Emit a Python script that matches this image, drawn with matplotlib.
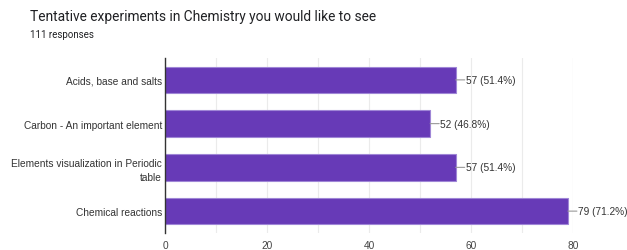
import matplotlib
matplotlib.use("Agg")
import matplotlib.pyplot as plt

categories = ["Acids, base and salts", "Carbon - An important element",
              "Elements visualization in Periodic\ntable", "Chemical reactions"]
counts = [57, 52, 57, 79]
percents = ["51.4%", "46.8%", "51.4%", "71.2%"]
xticks = [0, 20, 40, 60, 80]

FS = 7.3
FAM = ["Liberation Sans", "DejaVu Sans"]

fig = plt.figure(figsize=(6.27, 2.51), dpi=100)
fig.patch.set_facecolor("white")
ax = fig.add_axes([165/627, 1-234/251, 408/627, 175/251])

ypos = list(range(len(categories)))
ax.barh(ypos, counts, height=0.61, color="#673ab7", edgecolor="#9f86d6",
        linewidth=0.8, zorder=3)
ax.set_ylim(len(categories)-0.5, -0.5)
ax.set_xlim(0, 80)
ax.set_yticks(ypos)
ax.set_yticklabels(categories, fontsize=FS, color="#333333", family=FAM,
                   ha="right", linespacing=1.45)
ax.set_xticks(xticks)
ax.set_xticklabels([str(t) for t in xticks], fontsize=FS, color="#444444", family=FAM)
ax.set_xticks(range(10, 80, 20), minor=True)
ax.tick_params(axis="both", length=0, which="both")
ax.tick_params(axis="x", pad=5)
ax.tick_params(axis="y", pad=2)
ax.grid(axis="x", which="both", color="#ebebeb", linewidth=0.8, zorder=0)
ax.axvline(80, color="#ebebeb", linewidth=0.8, zorder=0)
for s in ["top", "right", "bottom"]:
    ax.spines[s].set_visible(False)
ax.spines["left"].set_color("#333333")
ax.spines["left"].set_linewidth(1.0)
ax.spines["left"].set_zorder(4)

for y, c, p in zip(ypos, counts, percents):
    ax.annotate("", xy=(c, y), xytext=(9, 0), textcoords="offset pixels",
                arrowprops=dict(arrowstyle="-", color="#999999", lw=0.8,
                                shrinkA=0, shrinkB=0), annotation_clip=False)
    ax.annotate(f"{c} ({p})", xy=(c, y), xytext=(10, 0), textcoords="offset pixels",
                va="center", ha="left", fontsize=FS, color="#333333",
                family=FAM, annotation_clip=False)

fig.text(30/627, 1-21/251, "Tentative experiments in Chemistry you would like to see",
         fontsize=9.9, color="#202124", family=["Roboto", "DejaVu Sans"], va="baseline")
fig.text(30/627, 1-38/251, "111 responses", fontsize=7.0, color="#202124",
         family=["Roboto", "DejaVu Sans"], va="baseline")

fig.savefig("out.png", dpi=100, facecolor="white")
